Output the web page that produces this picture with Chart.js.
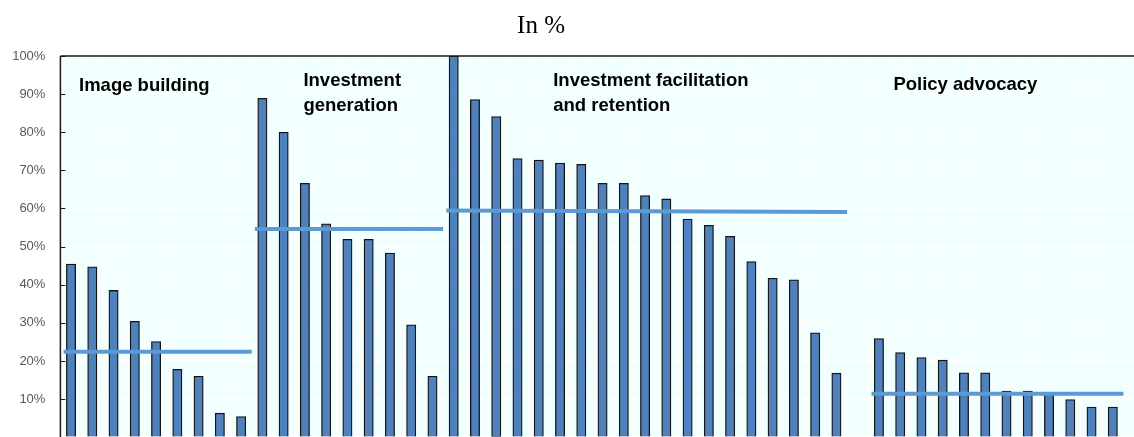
<!DOCTYPE html>
<html>
<head>
<meta charset="utf-8">
<script src="https://cdn.jsdelivr.net/npm/chart.js@4"></script>
<style>
  html, body { margin: 0; padding: 0; background: #ffffff; overflow: hidden; }
  #wrap { position: relative; width: 1150px; height: 460px; }
</style>
</head>
<body>
<div id="wrap"><canvas id="c"></canvas></div>
<script>
// ---------- DATA ----------
const titleText = 'In %';
const groupNames = ['Image building', 'Investment generation', 'Investment facilitation and retention', 'Policy advocacy'];
const imageBuilding = [45.4, 44.7, 38.5, 30.4, 25.1, 17.8, 16.0, 6.3, 5.4];
const investmentGeneration = [88.9, 80.0, 66.6, 56.0, 51.9, 51.9, 48.3, 29.5, 16.0];
const facilitationRetention = [100, 88.6, 84.1, 73.1, 72.7, 71.9, 71.6, 66.6, 66.6, 63.4, 62.5, 57.2, 55.6, 52.7, 46.1, 41.7, 41.3, 27.4, 16.8];
const policyAdvocacy = [25.9, 22.2, 20.9, 20.2, 16.9, 16.9, 12.1, 12.1, 11.5, 9.9, 7.9, 7.9];
// empty category slots after each group
const gapsAfter = [0, 0, 1, 1];
// group averages (start / end of the horizontal line)
const averageStart = [22.4, 54.6, 59.5, 11.4];
const averageEnd = [22.4, 54.6, 59.1, 11.4];
const yTicks = [0, 10, 20, 30, 40, 50, 60, 70, 80, 90, 100];

// ---------- BUILD ----------
const groups = [imageBuilding, investmentGeneration, facilitationRetention, policyAdvocacy];
const categories = [];
const barValues = [];
const groupRanges = [];
groups.forEach((vals, g) => {
  const first = categories.length;
  vals.forEach((v, i) => { categories.push(groupNames[g] + ' ' + (i + 1)); barValues.push(v); });
  groupRanges.push([first, categories.length - 1]);
  for (let k = 0; k < gapsAfter[g]; k++) { categories.push(''); barValues.push(null); }
});

const avgDatasets = groupRanges.map((r, g) => ({
  type: 'line',
  xAxisID: 'x2',
  data: [{ x: r[0] - 0.35, y: averageStart[g] }, { x: r[1] + 0.5, y: averageEnd[g] }],
  borderColor: '#5B9BD5',
  borderWidth: 4,
  pointRadius: 0,
  fill: false,
  order: 0
}));

const labelLayout = [
  { lines: ['Image building'], x: 0.375, y: 90.8 },
  { lines: ['Investment', 'generation'], x: 10.93, y: 92.1 },
  { lines: ['Investment facilitation', 'and retention'], x: 22.68, y: 92.1 },
  { lines: ['Policy advocacy'], x: 38.68, y: 91.2 }
];

const decor = {
  id: 'decor',
  beforeDraw(chart) {
    const { ctx, chartArea: a } = chart;
    ctx.save();
    ctx.fillStyle = '#F2FFFF';
    ctx.fillRect(a.left, a.top, a.right - a.left, a.bottom - a.top);
    ctx.restore();
  },
  afterDraw(chart) {
    const { ctx, chartArea: a } = chart;
    const ys = chart.scales.y, x2 = chart.scales.x2;
    ctx.save();
    ctx.strokeStyle = '#1a1a1a';
    ctx.lineWidth = 1.5;
    ctx.beginPath(); ctx.moveTo(a.left, a.top); ctx.lineTo(a.right, a.top); ctx.stroke();
    ctx.beginPath(); ctx.moveTo(a.left, a.top); ctx.lineTo(a.left, a.bottom); ctx.stroke();
    ctx.lineWidth = 1;
    ys.ticks.forEach(t => {
      const py = Math.round(ys.getPixelForValue(t.value)) + 0.5;
      ctx.beginPath(); ctx.moveTo(a.left, py); ctx.lineTo(a.left + 5, py); ctx.stroke();
    });
    ctx.fillStyle = '#000';
    ctx.font = 'bold 18.5px "Liberation Sans", Arial, sans-serif';
    ctx.textAlign = 'left';
    ctx.textBaseline = 'alphabetic';
    labelLayout.forEach(l => {
      const px = x2.getPixelForValue(l.x);
      const py = ys.getPixelForValue(l.y);
      l.lines.forEach((s, i) => ctx.fillText(s, px, py + i * 25));
    });
    ctx.font = '25px "Liberation Serif", "Times New Roman", serif';
    ctx.textAlign = 'center';
    ctx.fillText(titleText, 541, 33.3);
    ctx.restore();
  }
};

new Chart(document.getElementById('c'), {
  type: 'bar',
  data: {
    labels: categories,
    datasets: [
      ...avgDatasets,
      {
        type: 'bar',
        data: barValues,
        backgroundColor: '#4F81BD',
        borderColor: '#141414',
        borderWidth: 1.3,
        borderSkipped: 'bottom',
        grouped: false,
        barThickness: 9.3,
        order: 1
      }
    ]
  },
  options: {
    responsive: true,
    maintainAspectRatio: false,
    animation: false,
    layout: { padding: { top: 56, right: 5.3, bottom: 17.3, left: 0 } },
    plugins: { legend: { display: false }, tooltip: { enabled: false }, title: { display: false } },
    scales: {
      x: {
        type: 'category',
        offset: true,
        grid: { display: true, color: '#FFFFFF', lineWidth: 1, drawTicks: false, offset: true },
        border: { display: false },
        ticks: { display: false },
        afterFit(s) { s.height = 0; }
      },
      x2: {
        type: 'linear',
        display: false,
        offset: false,
        min: -0.5,
        max: categories.length - 0.5,
        afterFit(s) { s.height = 0; }
      },
      y: {
        min: 0,
        max: 100,
        afterBuildTicks(s) { s.ticks = yTicks.map(v => ({ value: v })); },
        afterFit(s) { s.width = 60.4; },
        grid: { color: '#FFFFFF', lineWidth: 1.5, drawTicks: false },
        border: { display: false },
        ticks: {
          padding: 15,
          color: '#595959',
          font: { family: '"Liberation Sans", Arial, sans-serif', size: 13 },
          callback: v => (v === 0 ? '' : v + '%')
        }
      }
    }
  },
  plugins: [decor]
});
</script>
</body>
</html>
